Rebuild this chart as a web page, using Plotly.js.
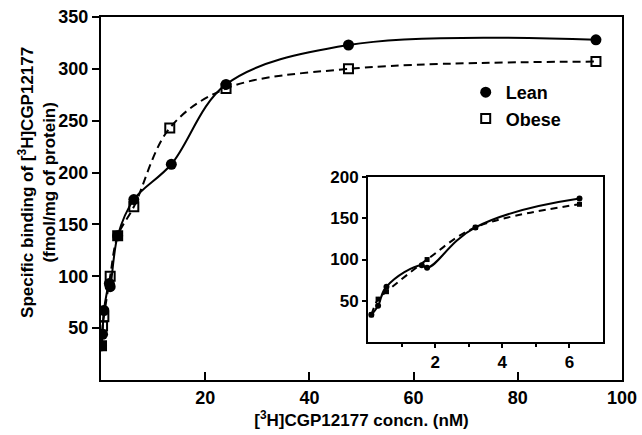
<!DOCTYPE html>
<html>
<head>
<meta charset="utf-8">
<script src="https://cdn.plot.ly/plotly-3.0.1.min.js"></script>
<style>html,body{margin:0;padding:0;background:#fff;}#chart{width:642px;height:435px;}</style>
</head>
<body>
<div id="chart"></div>
<script>
// Data
var leanConc   = [0.1, 0.3, 0.55, 1.6, 1.76, 3.2, 6.3, 13.5, 24, 47.5, 95];
var leanBind   = [33, 44, 67, 93, 90, 139, 174, 208, 285, 323, 328];
var obeseConc  = [0.1, 0.3, 0.55, 1.76, 3.2, 6.3, 13.2, 24, 47.5, 95];
var obeseBind  = [33, 52, 61, 100, 139, 167, 243, 281, 300, 307];
var mainXTicks = [20, 40, 60, 80, 100];
var mainYTicks = [50, 100, 150, 200, 250, 300, 350];
var insetXTicks = [2, 4, 6];
var insetXMinor = [1, 3, 5];
var insetYTicks = [50, 100, 150, 200];
var insetMaxConc = 7;

function lowRange(xs, ys) {
  var ox = [], oy = [];
  for (var i = 0; i < xs.length; i++) {
    if (xs[i] <= insetMaxConc) { ox.push(xs[i]); oy.push(ys[i]); }
  }
  return {x: ox, y: oy};
}
var leanLow = lowRange(leanConc, leanBind);
var obeseLow = lowRange(obeseConc, obeseBind);

var FONT = 'Liberation Sans, Arial, Helvetica, sans-serif';
var lineW = 2;

var traces = [
  {x: leanConc, y: leanBind, mode: 'lines', line: {color: '#000', width: lineW, shape: 'spline', smoothing: 1},
   showlegend: false, xaxis: 'x', yaxis: 'y', hoverinfo: 'skip'},
  {x: obeseConc, y: obeseBind, mode: 'lines', line: {color: '#000', width: lineW, dash: '8px,5px', shape: 'spline', smoothing: 1},
   showlegend: false, xaxis: 'x', yaxis: 'y', hoverinfo: 'skip'},
  {x: obeseConc, y: obeseBind, mode: 'markers', name: 'Obese', legendrank: 2,
   marker: {symbol: 'square-open', size: 9, color: '#000', line: {color: '#000', width: 2}},
   xaxis: 'x', yaxis: 'y'},
  {x: leanConc, y: leanBind, mode: 'markers', name: 'Lean', legendrank: 1,
   marker: {symbol: 'circle', size: 11, color: '#000'},
   xaxis: 'x', yaxis: 'y'},
  // inset
  {x: leanLow.x, y: leanLow.y, mode: 'lines', line: {color: '#000', width: lineW, shape: 'spline', smoothing: 1.3},
   showlegend: false, xaxis: 'x2', yaxis: 'y2', hoverinfo: 'skip'},
  {x: obeseLow.x, y: obeseLow.y, mode: 'lines', line: {color: '#000', width: lineW, dash: '7px,5px', shape: 'spline', smoothing: 1},
   showlegend: false, xaxis: 'x2', yaxis: 'y2', hoverinfo: 'skip'},
  {x: obeseLow.x, y: obeseLow.y, mode: 'markers', showlegend: false,
   marker: {symbol: 'square', size: 5, color: '#000'}, xaxis: 'x2', yaxis: 'y2'},
  {x: leanLow.x, y: leanLow.y, mode: 'markers', showlegend: false,
   marker: {symbol: 'circle', size: 6, color: '#000'}, xaxis: 'x2', yaxis: 'y2'}
];

var tickFont = {family: FONT, size: 18, color: '#000', weight: 'bold'};
var insetFont = {family: FONT, size: 17, color: '#000', weight: 'bold'};

var layout = {
  width: 642, height: 435,
  margin: {l: 101, r: 20, t: 17, b: 55},
  paper_bgcolor: '#fff', plot_bgcolor: '#fff',
  font: {family: FONT, color: '#000'},
  showlegend: true,
  legend: {x: 0.70, y: 0.843, xanchor: 'left', yanchor: 'top', bgcolor: 'rgba(0,0,0,0)',
           font: {family: FONT, size: 18, color: '#000', weight: 'bold'}, itemwidth: 30, tracegroupgap: 0,
           traceorder: 'normal'},
  xaxis: {domain: [0, 1], anchor: 'y', range: [0, 100], tickmode: 'array', tickvals: mainXTicks,
          ticks: 'inside', ticklen: 8, tickwidth: 2, tickcolor: '#000',
          showline: true, linecolor: '#000', linewidth: 2, mirror: true,
          showgrid: false, zeroline: false, tickfont: tickFont,
          title: {text: '[<sup>3</sup>H]CGP12177 concn. (nM)', font: {family: FONT, size: 17, color: '#000', weight: 'bold'}, standoff: 8}},
  yaxis: {domain: [0, 1], anchor: 'x', range: [0, 350], tickmode: 'array', tickvals: mainYTicks,
          ticks: 'outside', ticklen: 7, tickwidth: 2, tickcolor: '#000',
          showline: true, linecolor: '#000', linewidth: 2, mirror: true,
          showgrid: false, zeroline: false, tickfont: tickFont},
  xaxis2: {domain: [0.5125, 0.9635], anchor: 'y2', range: [0, 7], tickmode: 'array', tickvals: insetXTicks,
           ticks: 'outside', ticklen: 4, tickwidth: 2, tickcolor: '#000',
           minor: {tickmode: 'array', tickvals: insetXMinor, ticks: 'outside', ticklen: 3, tickwidth: 2, tickcolor: '#000'},
           showline: true, linecolor: '#000', linewidth: 2, mirror: true,
           showgrid: false, zeroline: false, tickfont: insetFont},
  yaxis2: {domain: [0.1047, 0.559], anchor: 'x2', range: [0, 200], tickmode: 'array', tickvals: insetYTicks,
           ticks: 'outside', ticklen: 4, tickwidth: 2, tickcolor: '#000',
           showline: true, linecolor: '#000', linewidth: 2, mirror: true,
           showgrid: false, zeroline: false, tickfont: insetFont},
  annotations: [{
    xref: 'paper', yref: 'paper', x: -0.1228, y: 0.543, xanchor: 'center', yanchor: 'middle',
    textangle: -90, showarrow: false,
    text: 'Specific binding of [<sup>3</sup>H]CGP12177<br>(fmol/mg of protein)',
    font: {family: FONT, size: 17, color: '#000', weight: 'bold'}
  }]
};

Plotly.newPlot('chart', traces, layout, {staticPlot: true, displayModeBar: false});
</script>
</body>
</html>
